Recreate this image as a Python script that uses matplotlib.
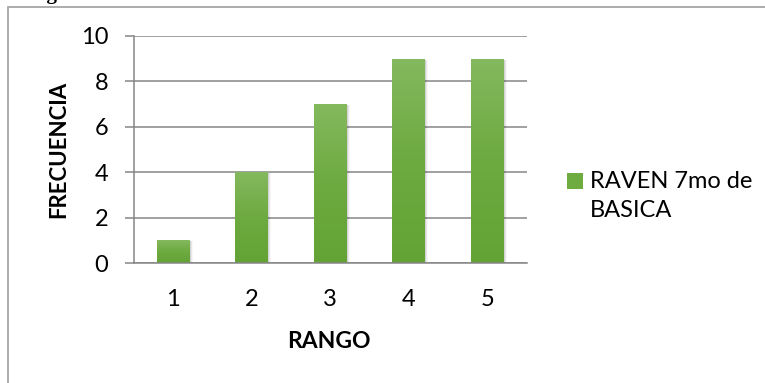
import numpy as np
import matplotlib
matplotlib.use("Agg")
import matplotlib.pyplot as plt
from matplotlib.patches import Rectangle
from matplotlib.colors import LinearSegmentedColormap

rangos = ["1", "2", "3", "4", "5"]
frecuencia = [1, 4, 7, 9, 9]
serie = "RAVEN 7mo de\nBASICA"
y_ticks = [0, 2, 4, 6, 8, 10]

plt.rcParams["font.family"] = ["Lato", "DejaVu Sans"]

W, H = 765, 383
fig = plt.figure(figsize=(W / 100, H / 100), dpi=100)
fig.patch.set_facecolor("white")

# caption above the chart frame (only its lower edge falls on the page)
fig.text(28 / W, 1 + 0.5 / H, "Figura 1. Resultados del test de Raven",
         family="Liberation Serif", weight="bold", fontsize=15,
         ha="left", va="baseline", color="black")

# outer chart frame
frame = Rectangle((8 / W, -0.1), 1.2, 1 - 7 / H + 0.1, transform=fig.transFigure,
                  fill=False, edgecolor="#a6a6a6", linewidth=1.3)
fig.add_artist(frame)

ax = fig.add_axes([134 / W, 120 / H, 392.5 / W, 227 / H])
x = np.arange(1, len(rangos) + 1)
bar_w = 0.42

green_map = LinearSegmentedColormap.from_list("g", ["#84b95e", "#6daa40", "#63a335"])
grad = np.linspace(0, 1, 256).reshape(-1, 1)

for xi, v in zip(x, frecuencia):
    # soft shadow to the lower right
    for k, a in enumerate([0.09, 0.06, 0.03]):
        sh = Rectangle((xi - bar_w / 2 + 0.012 * (k + 1), -0.05),
                       bar_w, v, facecolor="black", alpha=a,
                       edgecolor="none", zorder=2)
        ax.add_patch(sh)
    bar = ax.bar(xi, v, width=bar_w, color="#6aaa3c", zorder=3, linewidth=0)[0]
    im = ax.imshow(grad, cmap=green_map, aspect="auto", zorder=4, origin="upper",
                   extent=(xi - bar_w / 2, xi + bar_w / 2, 0, v))
    im.set_clip_path(bar)

ax.set_xlim(0.5, len(rangos) + 0.5)
ax.set_ylim(0, 10)

ax.set_yticks(y_ticks)
ax.set_yticklabels([str(t) for t in y_ticks])
ax.set_xticks(x)
ax.set_xticklabels(rangos)

ax.grid(axis="y", color="#868686", linewidth=1.1, zorder=0)
ax.set_axisbelow(True)
for s in ["top", "right"]:
    ax.spines[s].set_visible(False)
for s in ["left", "bottom"]:
    ax.spines[s].set_color("#868686")
    ax.spines[s].set_linewidth(1.1)
    ax.spines[s].set_zorder(5)

ax.tick_params(axis="y", length=6.5, width=1.1, color="#868686", pad=12,
               labelsize=17, labelcolor="black")
ax.tick_params(axis="x", length=0, pad=19, labelsize=17, labelcolor="black")

# axis titles
fig.text(329 / W, 1 - 341 / H, "RANGO", fontsize=16.5, weight="bold",
         ha="center", va="center")
fig.text(59 / W, 1 - 149 / H, "FRECUENCIA", fontsize=16, weight="bold",
         ha="center", va="center", rotation=90)

# legend
fig.add_artist(Rectangle((567 / W, 1 - 189 / H), 16 / W, 16 / H,
                         transform=fig.transFigure, facecolor="#6eac42",
                         edgecolor="none"))
fig.text(590 / W, 1 - 171 / H, serie, fontsize=17, ha="left", va="top",
         linespacing=1.45, color="black")

fig.savefig("out.png", dpi=100)
